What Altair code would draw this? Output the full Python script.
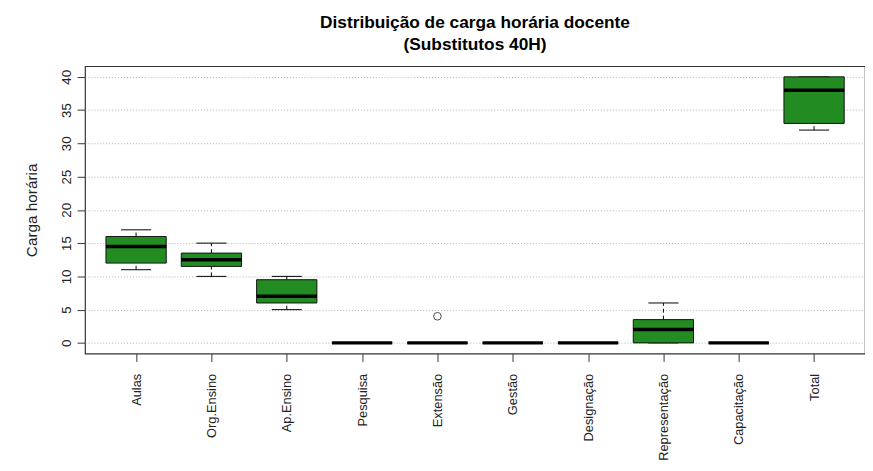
import altair as alt
import pandas as pd

categories = ["Aulas", "Org.Ensino", "Ap.Ensino", "Pesquisa", "Extensão",
              "Gestão", "Designação", "Representação", "Capacitação", "Total"]
lower_whisker = [11, 10, 5, 0, 0, 0, 0, 0, 0, 32]
q1 = [12, 11.5, 6, 0, 0, 0, 0, 0, 0, 33]
median = [14.5, 12.5, 7, 0, 0, 0, 0, 2, 0, 38]
q3 = [16, 13.5, 9.5, 0, 0, 0, 0, 3.5, 0, 40]
upper_whisker = [17, 15, 10, 0, 0, 0, 0, 6, 0, 40]
outlier_category = ["Extensão"]
outlier_value = [4]
y_ticks = [0, 5, 10, 15, 20, 25, 30, 35, 40]

FONT = "Liberation Sans"
GREEN = "#228B22"

df = pd.DataFrame({
    "cat": categories,
    "idx": list(range(1, len(categories) + 1)),
    "lo": lower_whisker,
    "q1": q1,
    "med": median,
    "q3": q3,
    "hi": upper_whisker,
})
out_df = pd.DataFrame({
    "idx": [categories.index(c) + 1 for c in outlier_category],
    "v": outlier_value,
})

label_expr = "[" + ",".join("'" + c + "'" for c in categories) + "][datum.value - 1]"

xscale = alt.Scale(domain=[0.322, 10.676], zero=False, nice=False)
yscale = alt.Scale(domain=[-1.6, 41.6], zero=False, nice=False)

xaxis = alt.Axis(values=list(range(1, len(categories) + 1)), labelExpr=label_expr,
                 labelAngle=270, labelFontSize=13, labelFont=FONT, labelColor="#222",
                 labelPadding=12, tickSize=8, tickColor="#333", domain=False, grid=False,
                 title=None, labelOverlap=False, labelBound=False, labelFlush=False)
yaxis = alt.Axis(values=y_ticks, labelAngle=270, labelFontSize=13.5, labelFont=FONT,
                 labelColor="#222", labelPadding=4, tickSize=8, tickColor="#333",
                 domain=False, grid=True, gridColor="#b0b0b0", gridDash=[1, 2],
                 gridWidth=1, title="Carga horária", titleFont=FONT, titleFontSize=15.5,
                 titleFontWeight="normal", titleColor="#222", titlePadding=20,
                 labelOverlap=False, labelFlush=False)

X = lambda f: alt.X(f, scale=xscale, axis=xaxis)
Y = lambda f: alt.Y(f, scale=yscale, axis=yaxis)

base = alt.Chart(df).transform_calculate(
    xl="datum.idx - 0.4", xr="datum.idx + 0.4",
    cl="datum.idx - 0.2", cr="datum.idx + 0.2",
)

whisk_hi = base.mark_rule(color="black", strokeWidth=1, strokeDash=[4, 3]).encode(
    x=X("idx:Q"), y=Y("q3:Q"), y2="hi:Q",
)
whisk_lo = base.mark_rule(color="black", strokeWidth=1, strokeDash=[4, 3]).encode(
    x=X("idx:Q"), y=Y("lo:Q"), y2="q1:Q",
)
cap_hi = base.mark_rule(color="black", strokeWidth=1).encode(
    x=X("cl:Q"), x2="cr:Q", y=Y("hi:Q"),
)
cap_lo = base.mark_rule(color="black", strokeWidth=1).encode(
    x=X("cl:Q"), x2="cr:Q", y=Y("lo:Q"),
)
boxes = base.mark_bar(fill=GREEN, stroke="#111", strokeWidth=1).encode(
    x=X("xl:Q"), x2="xr:Q", y=Y("q1:Q"), y2="q3:Q",
)
meds = base.mark_rule(color="black", strokeWidth=3.5).encode(
    x=X("xl:Q"), x2="xr:Q", y=Y("med:Q"),
)
outliers = alt.Chart(out_df).mark_point(shape="circle", filled=False, color="black",
                                        strokeWidth=1, size=60).encode(
    x=X("idx:Q"), y=Y("v:Q"),
)

chart = alt.layer(whisk_hi, whisk_lo, cap_hi, cap_lo, boxes, meds, outliers).properties(
    width=790, height=291,
    title=alt.TitleParams(text=["Distribuição de carga horária docente", "(Substitutos 40H)"],
                          font=FONT, fontSize=17.5, fontWeight="bold", color="black",
                          anchor="middle", lineHeight=22, offset=13),
    autosize=alt.AutoSizeParams(type="none"),
    padding={"left": 78, "top": 56, "right": 0, "bottom": 115},
).configure_view(stroke="#333", strokeWidth=1.2)

chart.save("out.html", embed_options={"renderer": "svg", "actions": False})
